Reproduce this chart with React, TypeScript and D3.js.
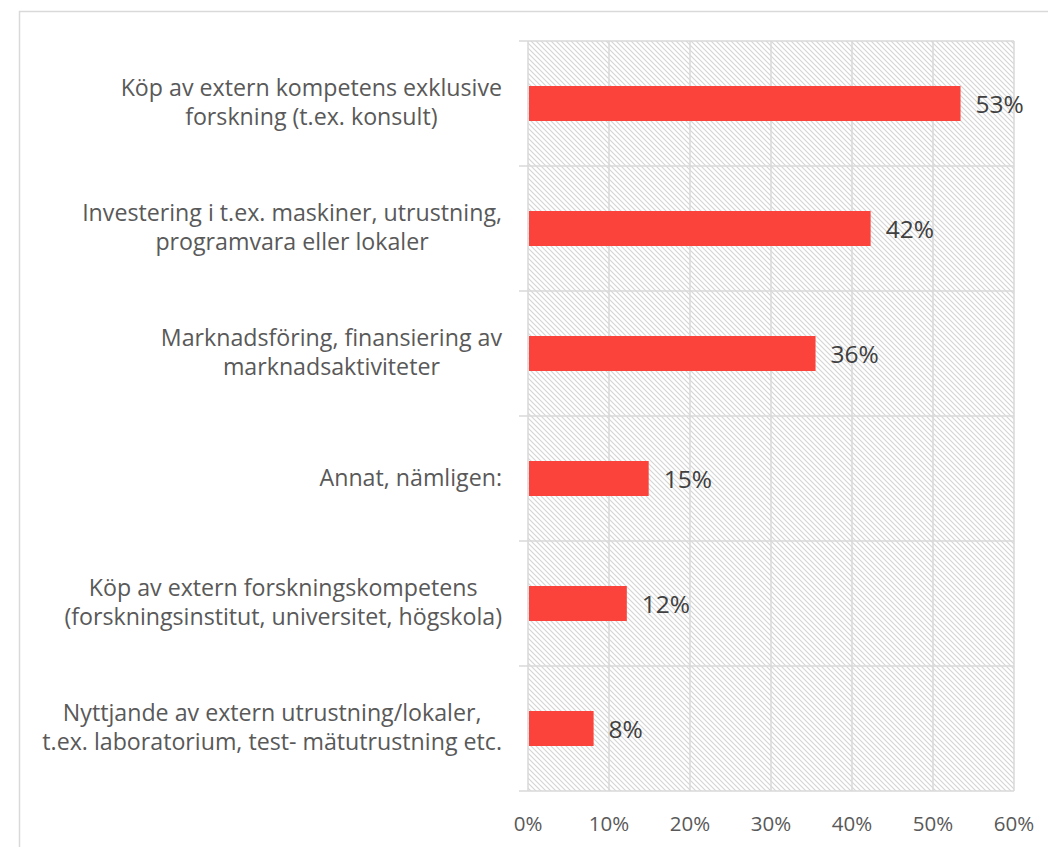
import React, { useEffect, useRef } from "react";
import * as d3 from "d3";

const categories: string[][] = [
  ["Köp av extern kompetens exklusive", "forskning (t.ex. konsult)"],
  ["Investering i t.ex. maskiner, utrustning,", "programvara eller lokaler"],
  ["Marknadsföring, finansiering av", "marknadsaktiviteter"],
  ["Annat, nämligen:"],
  ["Köp av extern forskningskompetens", "(forskningsinstitut, universitet, högskola)"],
  ["Nyttjande av extern utrustning/lokaler,", "t.ex. laboratorium, test- mätutrustning etc."],
];
const values: number[] = [53.4, 42.3, 35.5, 14.9, 12.2, 8.1];
const valueLabels: string[] = ["53%", "42%", "36%", "15%", "12%", "8%"];
const xTicks: number[] = [0, 10, 20, 30, 40, 50, 60];

const W = 1048;
const H = 847;
const FONT = "'Open Sans', Lato, sans-serif";

export default function App() {
  const ref = useRef<SVGSVGElement | null>(null);

  useEffect(() => {
    const svg = d3.select(ref.current);
    svg.selectAll("*").remove();

    const left = 528, right = 1014, top = 41, bottom = 791;
    const x = d3.scaleLinear().domain([0, 60]).range([left, right]);
    const y = d3
      .scaleBand<number>()
      .domain(d3.range(categories.length))
      .range([top, bottom])
      .paddingInner(0.72)
      .paddingOuter(0.36);
    const step = y.step();

    const defs = svg.append("defs");
    const P = 5;
    const pat = defs
      .append("pattern")
      .attr("id", "hatch")
      .attr("patternUnits", "userSpaceOnUse")
      .attr("width", P)
      .attr("height", P);
    pat.append("rect").attr("width", P).attr("height", P).attr("fill", "#ffffff");
    pat
      .append("path")
      .attr("d", `M-1,-1 L${P + 1},${P + 1} M-1,${P - 1} L1,${P + 1} M${P - 1},-1 L${P + 1},1`)
      .attr("stroke", "#d4d4d4")
      .attr("stroke-width", 1.1);

    // outer chart border
    svg
      .append("rect")
      .attr("x", 19.5)
      .attr("y", 11.5)
      .attr("width", W + 10)
      .attr("height", H + 10)
      .attr("fill", "#ffffff")
      .attr("stroke", "#d9d9d9")
      .attr("stroke-width", 1.5);

    // hatched plot area
    svg
      .append("rect")
      .attr("x", left)
      .attr("y", top)
      .attr("width", right - left)
      .attr("height", bottom - top)
      .attr("fill", "url(#hatch)");

    // vertical gridlines
    svg
      .append("g")
      .selectAll("line")
      .data(xTicks)
      .join("line")
      .attr("x1", (d) => x(d))
      .attr("x2", (d) => x(d))
      .attr("y1", top)
      .attr("y2", bottom)
      .attr("stroke", "#d9d9d9")
      .attr("stroke-width", 1.5);

    // horizontal category boundaries (with tick marks)
    const bounds = d3.range(categories.length + 1).map((i) => top + i * step);
    svg
      .append("g")
      .selectAll("line")
      .data(bounds)
      .join("line")
      .attr("x1", left - 9)
      .attr("x2", right)
      .attr("y1", (d) => d)
      .attr("y2", (d) => d)
      .attr("stroke", "#d9d9d9")
      .attr("stroke-width", 1.5);

    // bars
    svg
      .append("g")
      .selectAll("rect")
      .data(values)
      .join("rect")
      .attr("x", x(0) + 1)
      .attr("y", (_, i) => y(i)!)
      .attr("width", (d) => x(d) - x(0) - 1)
      .attr("height", y.bandwidth())
      .attr("fill", "#fb433b");

    // value labels
    svg
      .append("g")
      .selectAll("text")
      .data(values)
      .join("text")
      .attr("x", (d) => x(d) + 15)
      .attr("y", (_, i) => y(i)! + y.bandwidth() / 2 + 9.5)
      .attr("font-family", FONT)
      .attr("font-size", 24.5)
      .attr("fill", "#404040")
      .text((_, i) => valueLabels[i]);

    // x axis labels
    svg
      .append("g")
      .selectAll("text")
      .data(xTicks)
      .join("text")
      .attr("x", (d) => x(d))
      .attr("y", 831)
      .attr("text-anchor", "middle")
      .attr("font-family", FONT)
      .attr("font-size", 20.5)
      .attr("fill", "#595959")
      .text((d) => `${d}%`);

    // category labels: block right-aligned, lines centered within block
    const lineH = 29;
    const labelRight = 502;
    categories.forEach((lines, i) => {
      const cy = y(i)! + y.bandwidth() / 2;
      const g = svg.append("g");
      const texts = lines.map((t, j) =>
        g
          .append("text")
          .attr("y", cy + (j - (lines.length - 1) / 2) * lineH + 7)
          .attr("text-anchor", "middle")
          .attr("font-family", FONT)
          .attr("font-size", 23.2)
          .attr("fill", "#595959")
          .text(t)
      );
      const widths = texts.map((t) => (t.node() as SVGTextElement).getComputedTextLength());
      const maxW = d3.max(widths) || 0;
      texts.forEach((t) => t.attr("x", labelRight - maxW / 2));
    });
  }, []);

  return (
    <svg
      ref={ref}
      width={W}
      height={H}
      style={{ position: "absolute", left: 0, top: 0, display: "block" }}
    />
  );
}
